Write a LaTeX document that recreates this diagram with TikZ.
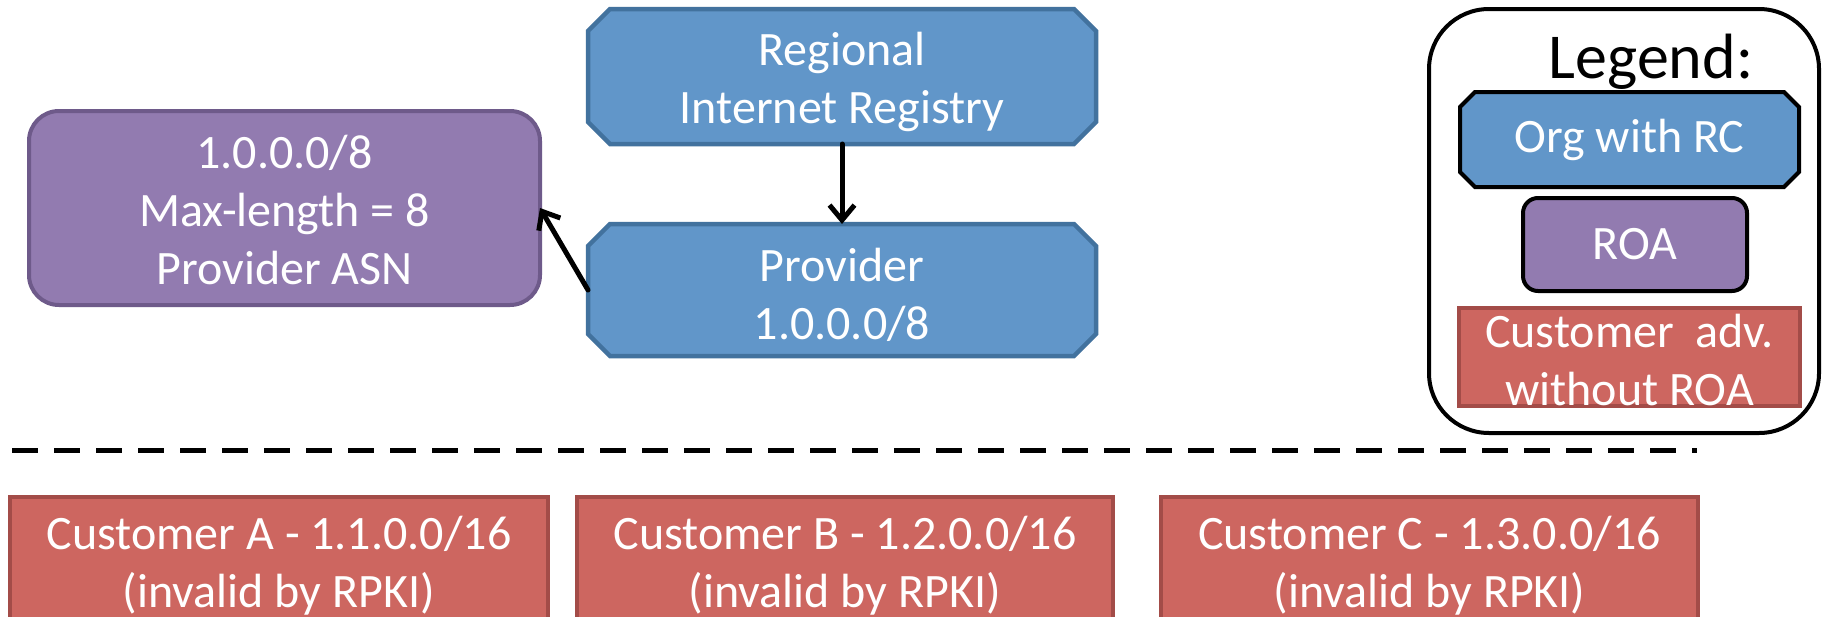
\documentclass[tikz,border=0pt]{standalone}
\usepackage{fontspec}
\setmainfont{Carlito}
\usetikzlibrary{arrows.meta,backgrounds}

\definecolor{rcfill}{RGB}{97,150,201}
\definecolor{rcline}{RGB}{66,114,158}
\definecolor{roafill}{RGB}{146,123,176}
\definecolor{roaline}{RGB}{110,90,138}
\definecolor{custfill}{RGB}{205,102,96}
\definecolor{custline}{RGB}{163,76,72}

% octagon outline through the corners of a node: #1 node name, #2 chamfer size
\newcommand\octpath[2]{([xshift=#2]#1.north west) -- ([xshift=-#2]#1.north east)
  -- ([yshift=-#2]#1.north east) -- ([yshift=#2]#1.south east)
  -- ([xshift=-#2]#1.south east) -- ([xshift=#2]#1.south west)
  -- ([yshift=#2]#1.south west) -- ([yshift=-#2]#1.north west) -- cycle}

\begin{document}
\begin{tikzpicture}[x=1pt,y=-1pt,
  txt/.style={text=white,font=\fontsize{48}{58}\selectfont,align=center,
    inner sep=0pt,outer sep=0pt},
  orgbox/.style={txt,rectangle},
  roabox/.style={txt,draw=roaline,fill=roafill,line width=4pt,rounded corners=30pt},
  custbox/.style={txt,draw=custline,fill=custfill,line width=4pt},
  octshape/.style={draw=rcline,fill=rcfill,line width=4.5pt,line join=miter},
  link/.style={line width=5pt,line cap=round,-{Straight Barb[length=15pt,width=25pt]}},
  divider/.style={line width=5pt,dash pattern=on 26pt off 16pt}]

\useasboundingbox (0,0) rectangle (1822,616);
\clip (0,0) rectangle (1822,616);

% upper part: registry, provider and its ROA
\node[orgbox,minimum width=508pt,minimum height=135pt] (rir) at (842,76.5) {};
\node[txt] (rirtext) at ([yshift=-5pt]rir.center) {Regional\\Internet Registry};
\node[orgbox,minimum width=508pt,minimum height=132pt] (prov) at (842,290) {};
\node[txt] (provtext) at ([yshift=-5pt]prov.center) {Provider\\1.0.0.0/8};
\node[roabox,minimum width=511pt,minimum height=194pt] (roa) at (284.5,208) {};
\node[txt] (roatext) at ([yshift=-2pt]roa.center)
  {1.0.0.0/8\\Max-length = 8\\Provider ASN};

% legend
\node[draw=black,line width=4pt,rounded corners=60pt,minimum width=390pt,
  minimum height=424pt,inner sep=0pt] (legend) at (1624,221) {};
\node[anchor=base,inner sep=0pt,font=\fontsize{64}{76}\selectfont] (legtitle)
  at (1651,78) {Legend:};
\node[orgbox,minimum width=339pt,minimum height=95pt] (lorg) at (1629.5,139.5)
  {Org with RC};
\node[roabox,draw=black,rounded corners=15pt,minimum width=224pt,
  minimum height=93pt] (lroa) at (1635,244.5) {ROA};
\node[custbox,minimum width=341pt,minimum height=98pt] (lcust) at (1629.5,357) {};
\node[txt] (lcusttext) at ([yshift=-3pt]lcust.center)
  {Customer\ \ adv.\\without ROA};

% octagonal outlines behind the organisation nodes
\begin{scope}[on background layer]
  \fill[white] (0,0) rectangle (1822,616);
  \draw[octshape] \octpath{rir}{22pt};
  \draw[octshape] \octpath{prov}{22pt};
  \draw[octshape,draw=black,line width=4pt] \octpath{lorg}{15pt};
\end{scope}

% certification links
\draw[link] (rir.south) -- (prov.north);
\draw[link] (prov.west) -- (roa.east);

% separator
\coordinate (dl) at (12,450);
\coordinate (dr) at (1697,450);
\draw[divider] (dl) -- (dr);

% customers (boxes run on below the lower edge)
\node[custbox,minimum width=538pt,minimum height=138pt] (custA) at (279,566)
  {Customer A - 1.1.0.0/16\\(invalid by RPKI)};
\node[custbox,minimum width=536pt,minimum height=138pt] (custB) at (845,566)
  {Customer B - 1.2.0.0/16\\(invalid by RPKI)};
\node[custbox,minimum width=537pt,minimum height=138pt] (custC) at (1429.5,566)
  {Customer C - 1.3.0.0/16\\(invalid by RPKI)};
\end{tikzpicture}
\end{document}
